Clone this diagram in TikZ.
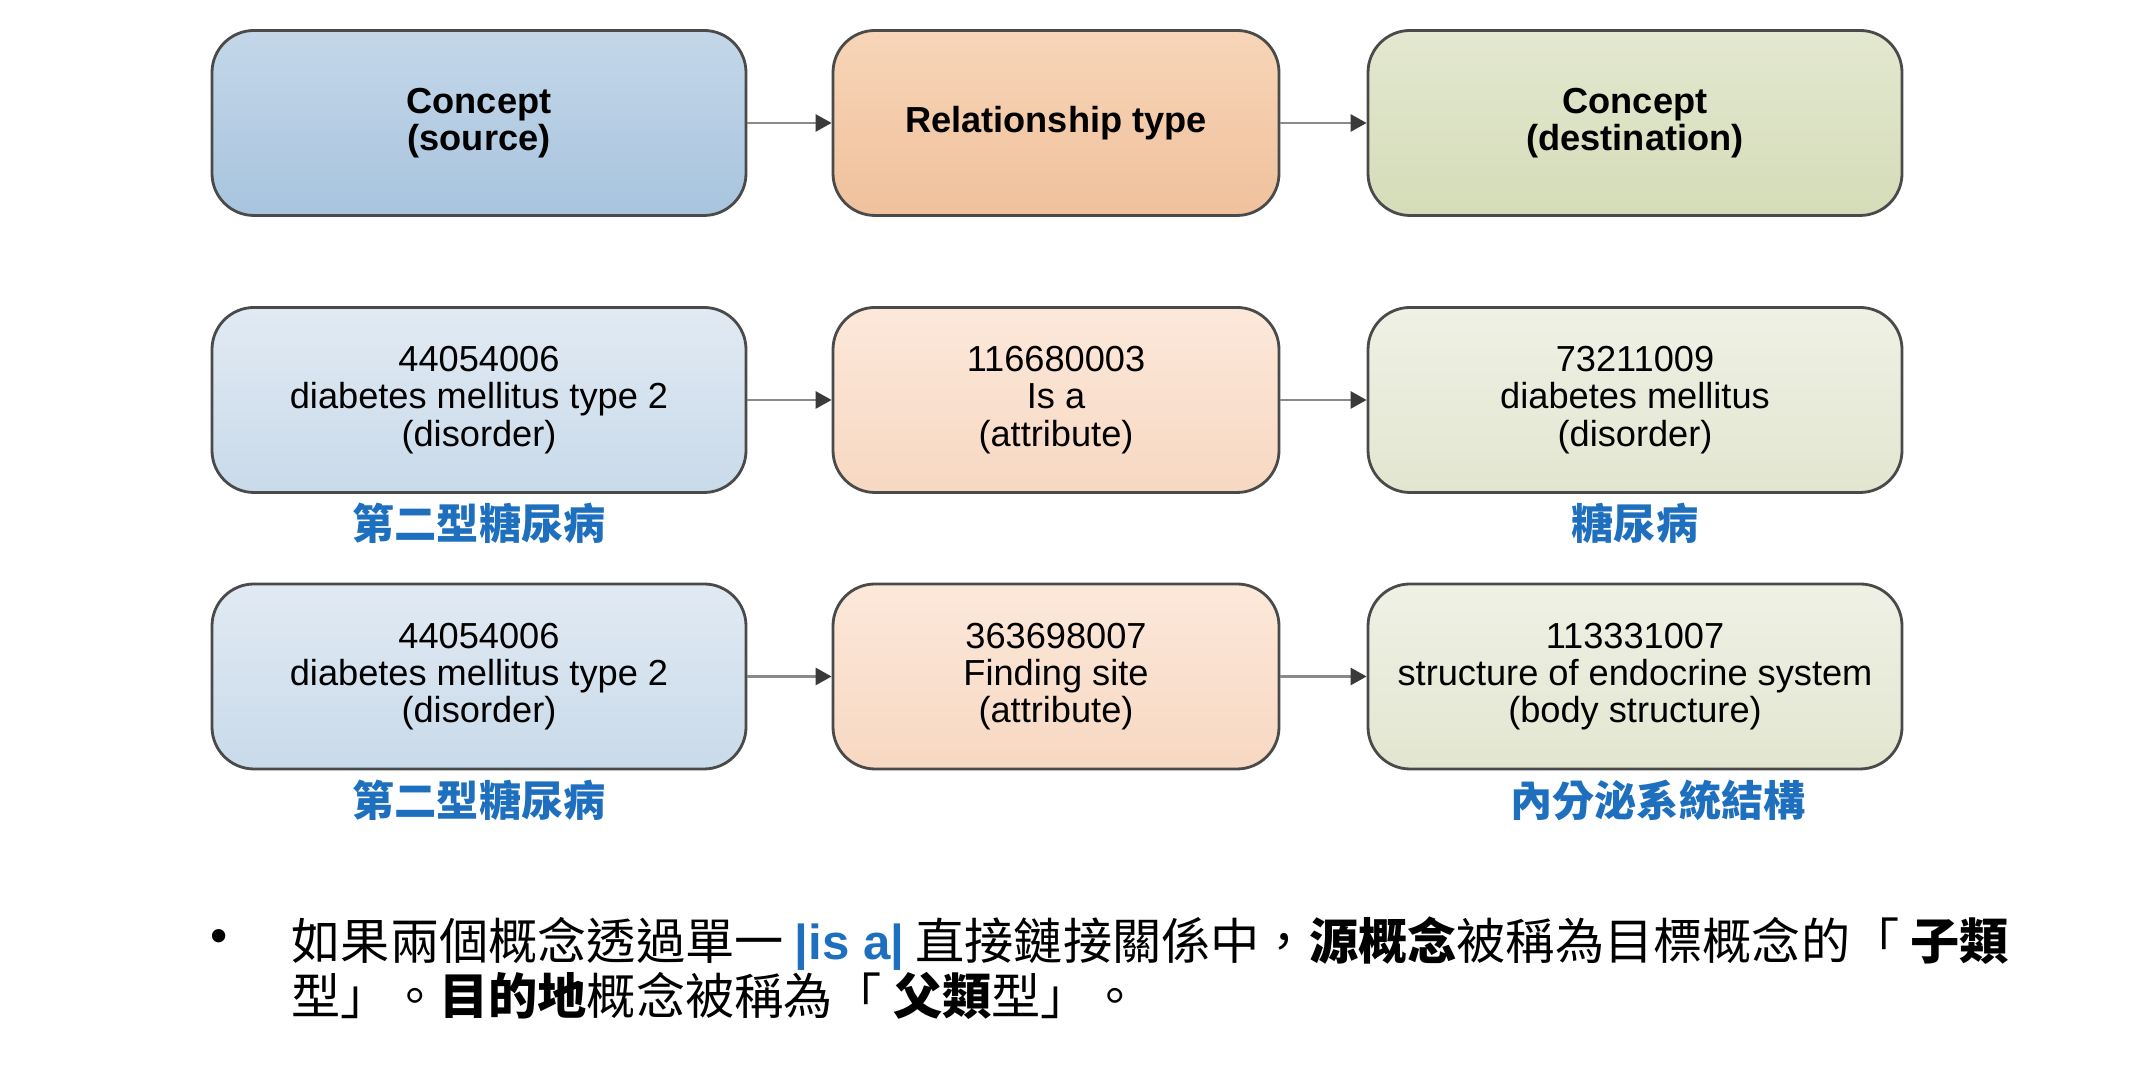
\documentclass[tikz,border=0pt]{standalone}
\usepackage{fontspec}
\usepackage{xcolor}
\usepackage{tikz}
\usetikzlibrary{arrows.meta, positioning}

\setmainfont{Liberation Sans}
\newfontfamily\cjk{Noto Sans CJK TC}

\definecolor{rimgray}{HTML}{4A4A4A}
\definecolor{arrgray}{HTML}{8A8A8A}
\definecolor{arrhead}{HTML}{3A3A3A}
\definecolor{lblue}{HTML}{1F6FBF}
\definecolor{srcA}{HTML}{C4D7E9}
\definecolor{srcB}{HTML}{A8C4DE}
\definecolor{relA}{HTML}{F7D5B8}
\definecolor{relB}{HTML}{F0C19C}
\definecolor{dstA}{HTML}{E3E8D0}
\definecolor{dstB}{HTML}{D5DCB8}
\definecolor{srcC}{HTML}{E1EAF3}
\definecolor{srcD}{HTML}{C9DAEA}
\definecolor{relC}{HTML}{FCE8DA}
\definecolor{relD}{HTML}{F7D8C2}
\definecolor{dstC}{HTML}{EFF1E5}
\definecolor{dstD}{HTML}{E2E6D0}

\begin{document}
\begin{tikzpicture}[
		box/.style={draw=rimgray, line width=0.8pt, rounded corners=0.42cm, minimum height=1.85cm, align=center, font=\fontsize{10.3}{10.6}\selectfont},
		wide/.style={box, minimum width=5.34cm},
		narrow/.style={box, minimum width=4.46cm},
		headbox/.style={font=\bfseries\fontsize{10.3}{10.6}\selectfont},
		link/.style={draw=arrgray, line width=0.8pt, -{Triangle[length=1.6mm, width=1.7mm, color=arrhead]}},
		zhlabel/.style={text=lblue, inner sep=1pt, font=\cjk\bfseries\fontsize{12}{14}\selectfont},
	]
		\useasboundingbox (0, 0) rectangle (21.45, 10.69);
		% Header row:
		\node[wide, headbox, top color=srcA, bottom color=srcB](src1) at (4.79, 9.46){Concept\\(source)};
		\node[narrow, headbox, top color=relA, bottom color=relB](rel1) at (10.56, 9.46){Relationship type};
		\node[wide, headbox, top color=dstA, bottom color=dstB](dst1) at (16.35, 9.46){Concept\\(destination)};
		% Is a example:
		\node[wide, top color=srcC, bottom color=srcD](src2) at (4.79, 6.69){44054006\\diabetes mellitus type 2\\(disorder)};
		\node[narrow, top color=relC, bottom color=relD](rel2) at (10.56, 6.69){116680003\\Is a\\(attribute)};
		\node[wide, top color=dstC, bottom color=dstD](dst2) at (16.35, 6.69){73211009\\diabetes mellitus\\(disorder)};
		% Finding site example:
		\node[wide, top color=srcC, bottom color=srcD](src3) at (4.79, 3.925){44054006\\diabetes mellitus type 2\\(disorder)};
		\node[narrow, top color=relC, bottom color=relD](rel3) at (10.56, 3.925){363698007\\Finding site\\(attribute)};
		\node[wide, top color=dstC, bottom color=dstD](dst3) at (16.35, 3.925){113331007\\structure of endocrine system\\(body structure)};
		\foreach \r in {1,2,3}{
			\draw[link] (src\r.east) -- (rel\r.west);
			\draw[link] (rel\r.east) -- (dst\r.west);
		}
		% Chinese names:
		\node[zhlabel, below=0.05cm of src2](zhsrc2){第二型糖尿病};
		\node[zhlabel, below=0.05cm of dst2](zhdst2){糖尿病};
		\node[zhlabel, below=0.05cm of src3](zhsrc3){第二型糖尿病};
		\node[zhlabel, below=0.05cm of dst3, xshift=0.23cm](zhdst3){內分泌系統結構};
		% Note:
		\node[font=\fontsize{14}{15.6}\selectfont](dot) at (2.19, 1.28){•};
		\node[anchor=west, align=left, inner sep=0pt, font=\cjk\fontsize{14}{15.6}\selectfont](note) at (2.91, 1.005){如果兩個概念透過單一 {\rmfamily\bfseries\color{lblue}|is a|} 直接鏈接關係中，\textbf{源概念}被稱為目標概念的「 \textbf{子類}\\型」。\textbf{目的地}概念被稱為「 \textbf{父類}型」。};
	\end{tikzpicture}
\end{document}
